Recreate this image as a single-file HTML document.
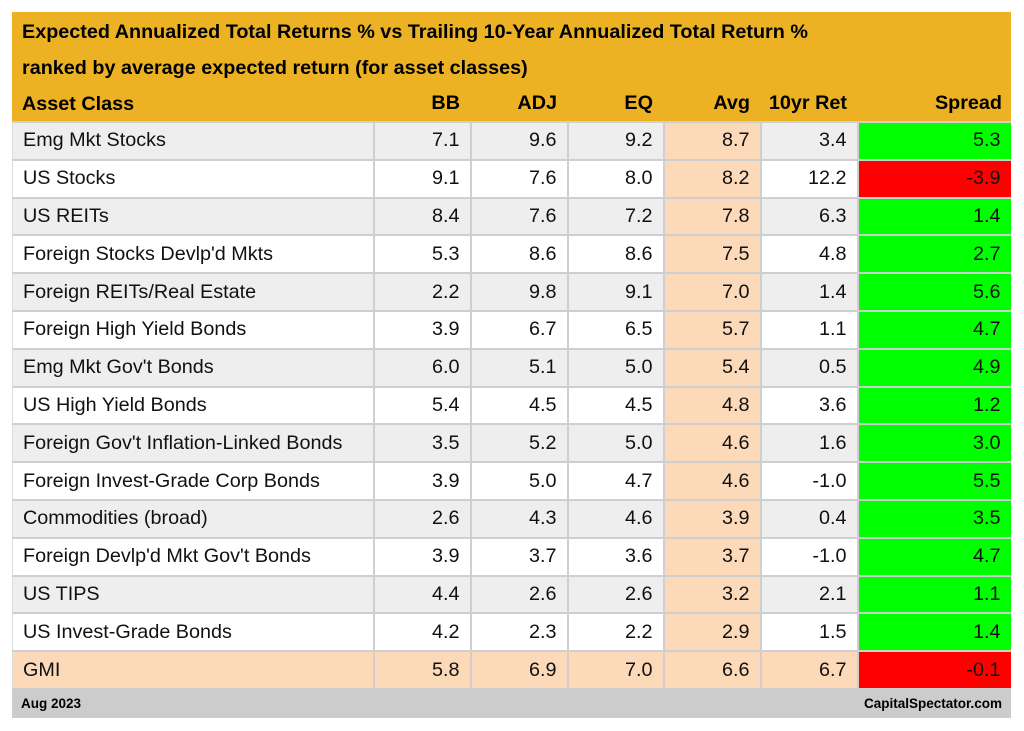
<!DOCTYPE html>
<html><head><meta charset="utf-8"><style>
body{margin:0;background:#fff;width:1024px;height:731px;position:relative;font-family:"Liberation Sans",Arial,sans-serif;overflow:hidden}
#hdr{position:absolute;left:12px;top:12px;width:999px;height:109px;background:#ecb224;color:#000;font-weight:bold}
.t{position:absolute;left:10px;font-size:19.8px;white-space:nowrap}
.h{position:absolute;top:80px;font-size:19.8px;text-align:right;white-space:nowrap}
table{position:absolute;left:12px;top:121px;border-collapse:collapse;table-layout:fixed;width:998px}
td{height:35.8px;border:2px solid #cfcfcf;padding:0 10px;font-size:19.8px;text-align:right;color:#111;white-space:nowrap;overflow:hidden}
td:first-child{text-align:left;border-left:1px solid #ddd}
td:last-child{border-right:none}
tr.g td{background:#eeeeee}
tr.w td{background:#fff}
td.a{background:#fcd9b8!important}
td.p{background:#00ff00!important}
td.r{background:#ff0000!important}
tr.m td{background:#fcd9b8}
#ftr{position:absolute;left:12px;top:688px;width:999px;height:30px;background:#cccccc;font-weight:bold;font-size:13.5px}
</style></head><body>
<div id="hdr">
<div class="t" style="top:9px">Expected Annualized Total Returns % vs Trailing 10-Year Annualized Total Return %</div>
<div class="t" style="top:45px">ranked by average expected return (for asset classes)</div>
<div class="t" style="top:81px">Asset Class</div>
<div class="h" style="left:361px;width:87px">BB</div>
<div class="h" style="left:458px;width:87px">ADJ</div>
<div class="h" style="left:555px;width:86px">EQ</div>
<div class="h" style="left:651px;width:87px">Avg</div>
<div class="h" style="left:748px;width:87px">10yr Ret</div>
<div class="h" style="left:845px;width:145px">Spread</div>
</div>
<table>
<colgroup><col style="width:361px"><col style="width:97px"><col style="width:97px"><col style="width:96px"><col style="width:97px"><col style="width:97px"><col style="width:153px"></colgroup>
<tr class="g"><td>Emg Mkt Stocks</td><td>7.1</td><td>9.6</td><td>9.2</td><td class="a">8.7</td><td>3.4</td><td class="p">5.3</td></tr>
<tr class="w"><td>US Stocks</td><td>9.1</td><td>7.6</td><td>8.0</td><td class="a">8.2</td><td>12.2</td><td class="r">-3.9</td></tr>
<tr class="g"><td>US REITs</td><td>8.4</td><td>7.6</td><td>7.2</td><td class="a">7.8</td><td>6.3</td><td class="p">1.4</td></tr>
<tr class="w"><td>Foreign Stocks Devlp'd Mkts</td><td>5.3</td><td>8.6</td><td>8.6</td><td class="a">7.5</td><td>4.8</td><td class="p">2.7</td></tr>
<tr class="g"><td>Foreign REITs/Real Estate</td><td>2.2</td><td>9.8</td><td>9.1</td><td class="a">7.0</td><td>1.4</td><td class="p">5.6</td></tr>
<tr class="w"><td>Foreign High Yield Bonds</td><td>3.9</td><td>6.7</td><td>6.5</td><td class="a">5.7</td><td>1.1</td><td class="p">4.7</td></tr>
<tr class="g"><td>Emg Mkt Gov't Bonds</td><td>6.0</td><td>5.1</td><td>5.0</td><td class="a">5.4</td><td>0.5</td><td class="p">4.9</td></tr>
<tr class="w"><td>US High Yield Bonds</td><td>5.4</td><td>4.5</td><td>4.5</td><td class="a">4.8</td><td>3.6</td><td class="p">1.2</td></tr>
<tr class="g"><td>Foreign Gov't Inflation-Linked Bonds</td><td>3.5</td><td>5.2</td><td>5.0</td><td class="a">4.6</td><td>1.6</td><td class="p">3.0</td></tr>
<tr class="w"><td>Foreign Invest-Grade Corp Bonds</td><td>3.9</td><td>5.0</td><td>4.7</td><td class="a">4.6</td><td>-1.0</td><td class="p">5.5</td></tr>
<tr class="g"><td>Commodities (broad)</td><td>2.6</td><td>4.3</td><td>4.6</td><td class="a">3.9</td><td>0.4</td><td class="p">3.5</td></tr>
<tr class="w"><td>Foreign Devlp'd Mkt Gov't Bonds</td><td>3.9</td><td>3.7</td><td>3.6</td><td class="a">3.7</td><td>-1.0</td><td class="p">4.7</td></tr>
<tr class="g"><td>US TIPS</td><td>4.4</td><td>2.6</td><td>2.6</td><td class="a">3.2</td><td>2.1</td><td class="p">1.1</td></tr>
<tr class="w"><td>US Invest-Grade Bonds</td><td>4.2</td><td>2.3</td><td>2.2</td><td class="a">2.9</td><td>1.5</td><td class="p">1.4</td></tr>
<tr class="m"><td>GMI</td><td>5.8</td><td>6.9</td><td>7.0</td><td class="a">6.6</td><td>6.7</td><td class="r">-0.1</td></tr>
</table>
<div id="ftr"><span style="position:absolute;left:9px;top:8px">Aug 2023</span><span style="position:absolute;right:9px;top:8px">CapitalSpectator.com</span></div>
</body></html>
